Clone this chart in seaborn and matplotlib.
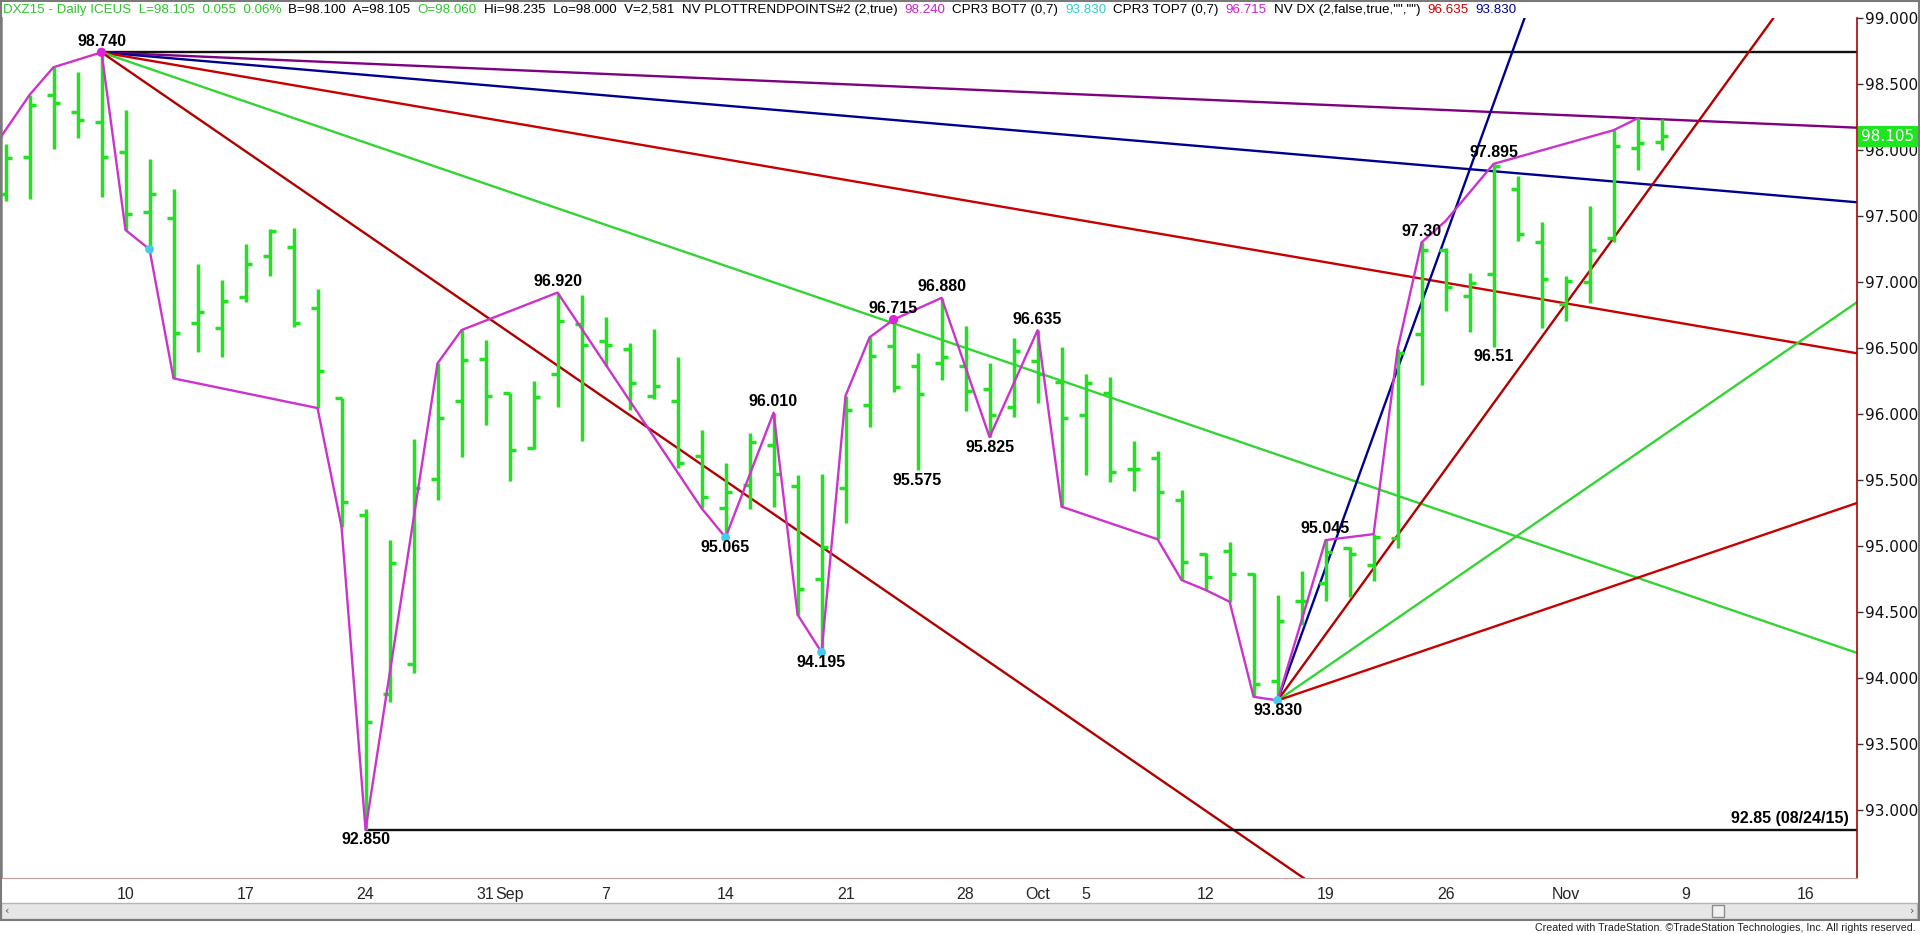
import numpy as np
import pandas as pd
import matplotlib
matplotlib.use('Agg')
import matplotlib.pyplot as plt
import seaborn as sns
from matplotlib import font_manager
from matplotlib.patches import Rectangle

# ---------------- data ----------------
dates = pd.bdate_range('2015-08-03', '2015-11-06')   # DXZ15 daily bars

opens = [97.67, 97.95, 98.417, 98.29, 98.214, 97.987, 97.53, 97.487, 96.687, 96.649,
         96.889, 97.197, 97.263, 96.805, 96.123, 95.235, 93.879, 94.104, 95.505, 96.098,
         96.414, 96.161, 95.74, 96.303, 96.682, 96.553, 96.492, 96.136, 96.098, 95.684,
         95.29, 95.462, 95.765, 95.455, 94.748, 95.437, 96.068, 96.517, 96.364, 96.384,
         96.364, 96.187, 96.051, 96.402, 96.24, 95.992, 96.161, 95.581, 95.664, 95.348,
         94.939, 94.962, 94.788, 93.98, 94.586, 94.717, 94.983, 94.856, 95.064, 96.605,
         97.246, 96.891, 97.058, 97.705, 97.306, 96.836, 96.998, 97.333, 98.015, 98.060]
highs = [98.045, 98.417, 98.627, 98.589, 98.74, 98.303, 97.93, 97.702, 97.134, 97.015,
         97.285, 97.40, 97.406, 96.947, 96.123, 95.278, 95.045, 95.81, 96.384, 96.636,
         96.561, 96.161, 96.25, 96.92, 96.902, 96.733, 96.536, 96.642, 96.434, 95.879,
         95.627, 95.858, 96.01, 95.538, 95.543, 96.139, 96.581, 96.715, 96.464, 96.88,
         96.669, 96.389, 96.574, 96.635, 96.51, 96.30, 96.278, 95.798, 95.722, 95.424,
         94.945, 95.028, 94.793, 94.629, 94.811, 95.045, 94.99, 95.09, 96.492, 97.30,
         97.26, 97.071, 97.895, 97.80, 97.454, 97.044, 97.578, 98.15, 98.24, 98.235]
lows = [97.61, 97.627, 98.008, 98.089, 97.646, 97.394, 97.248, 96.27, 96.467, 96.434,
        96.85, 97.048, 96.657, 96.045, 95.146, 92.85, 93.82, 94.036, 95.35, 95.677,
        95.917, 95.492, 95.735, 96.055, 95.798, 96.36, 96.03, 96.114, 95.589, 95.286,
        95.065, 95.278, 95.298, 94.48, 94.195, 95.172, 95.899, 96.169, 95.575, 96.258,
        96.025, 95.825, 95.98, 96.081, 95.298, 95.538, 95.483, 95.417, 95.051, 94.742,
        94.667, 94.578, 93.858, 93.83, 94.40, 94.586, 94.616, 94.737, 94.987, 96.222,
        96.783, 96.621, 96.51, 97.314, 96.648, 96.708, 96.842, 97.30, 97.845, 98.000]
closes = [97.94, 98.34, 98.354, 98.227, 97.95, 97.513, 97.667, 96.61, 96.77, 96.856,
          97.134, 97.386, 96.687, 96.326, 95.331, 93.669, 94.87, 95.442, 95.967, 96.409,
          96.136, 95.725, 96.129, 96.705, 96.52, 96.52, 96.233, 96.212, 95.627, 95.373,
          95.411, 95.79, 95.545, 94.672, 94.995, 96.03, 96.442, 96.202, 96.15, 96.43,
          96.177, 95.992, 96.477, 96.30, 95.967, 96.237, 95.563, 95.581, 95.407, 94.881,
          94.763, 94.788, 93.955, 94.432, 94.586, 94.957, 94.94, 95.066, 96.459, 97.246,
          96.964, 96.995, 97.877, 97.367, 97.026, 97.004, 97.246, 98.033, 98.055, 98.105]

# swing points joined by the PLOTTRENDPOINTS line
swing_dates = ['2015-07-31', '2015-08-04', '2015-08-05', '2015-08-07', '2015-08-10',
               '2015-08-11', '2015-08-12', '2015-08-20', '2015-08-21', '2015-08-24',
               '2015-08-27', '2015-08-28', '2015-09-03', '2015-09-11', '2015-09-14',
               '2015-09-16', '2015-09-17', '2015-09-18', '2015-09-21', '2015-09-22',
               '2015-09-23', '2015-09-25', '2015-09-29', '2015-10-01', '2015-10-02',
               '2015-10-08', '2015-10-09', '2015-10-12', '2015-10-13', '2015-10-14',
               '2015-10-15', '2015-10-19', '2015-10-21', '2015-10-22', '2015-10-23',
               '2015-10-26', '2015-10-28', '2015-11-04', '2015-11-05']
swing_prices = [97.884, 98.417, 98.627, 98.74, 97.394, 97.248, 96.27, 96.045, 95.146, 92.85,
                96.384, 96.636, 96.92, 95.286, 95.065, 96.01, 94.48, 94.195, 96.139, 96.581,
                96.715, 96.88, 95.825, 96.635, 95.298, 95.051, 94.742, 94.667, 94.578, 93.858,
                93.83, 95.045, 95.09, 96.492, 97.30, 97.462, 97.895, 98.15, 98.24]

# pivot dots
top_dot_dates = ['2015-08-07', '2015-09-23']
top_dot_prices = [98.74, 96.715]
bot_dot_dates = ['2015-08-11', '2015-09-14', '2015-09-18', '2015-10-15']
bot_dot_prices = [97.248, 95.065, 94.195, 93.83]

# pivot labels
lab_dates = ['2015-08-07', '2015-08-24', '2015-09-03', '2015-09-14', '2015-09-16',
             '2015-09-18', '2015-09-23', '2015-09-24', '2015-09-25', '2015-09-29',
             '2015-10-01', '2015-10-15', '2015-10-19', '2015-10-23', '2015-10-28',
             '2015-10-28']
lab_text = ['98.740', '92.850', '96.920', '95.065', '96.010', '94.195', '96.715', '95.575',
            '96.880', '95.825', '96.635', '93.830', '95.045', '97.30', '97.895', '96.51']
lab_side = ['up', 'down', 'up', 'down', 'up', 'down', 'up', 'down',
            'up', 'down', 'up', 'down', 'up', 'up', 'up', 'down']

# trend lines: start bar (index), start price, end bar (index), end price
tl_name = ['hi_flat', 'hi_purple', 'hi_blue', 'hi_red', 'hi_green', 'hi_steep',
           'lo_flat', 'lo_blue', 'lo_red', 'lo_green', 'lo_red2']
tl_x0 = [4, 4, 4, 4, 4, 4, 15, 53, 53, 53, 53]
tl_p0 = [98.74, 98.74, 98.74, 98.74, 98.74, 98.74, 92.85, 93.83, 93.83, 93.83, 93.83]
tl_x1 = [77.14, 77.14, 77.14, 77.14, 77.14, 60.0, 77.14, 63.29, 73.66, 77.14, 77.14]
tl_p1 = [98.74, 98.169, 97.604, 96.46, 94.19, 91.746, 92.85, 99.0, 99.0, 96.847, 95.326]

tick_days = ['2015-08-10', '2015-08-17', '2015-08-24', '2015-08-31', '2015-09-07',
             '2015-09-14', '2015-09-21', '2015-09-28', '2015-10-05', '2015-10-12',
             '2015-10-19', '2015-10-26', '2015-11-09', '2015-11-16']
tick_months = ['2015-09-01', '2015-10-01', '2015-11-02']

header = [("DXZ15 - Daily ICEUS  L=98.105  0.055  0.06%", '#2fc42f'),
          ("B=98.100  A=98.105", 'black'),
          ("O=98.060", '#2fc42f'),
          ("Hi=98.235  Lo=98.000  V=2,581  NV PLOTTRENDPOINTS#2 (2,true)", 'black'),
          ("98.240", '#cc22cc'),
          ("CPR3 BOT7 (0,7)", 'black'),
          ("93.830", '#33cccc'),
          ("CPR3 TOP7 (0,7)", 'black'),
          ("96.715", '#cc22cc'),
          ('NV DX (2,false,true,"","")', 'black'),
          ("96.635", '#cc0000'),
          ("93.830", '#000099')]
last_price = 98.105

# ---------------- styling ----------------
sns.set_style('white')
avail = {f.name for f in font_manager.fontManager.ttflist}
NARROW = 'Liberation Sans Narrow' if 'Liberation Sans Narrow' in avail else 'Liberation Sans'
plt.rcParams['font.family'] = ['Liberation Sans', 'DejaVu Sans']

BAR = '#22e022'
tl_colors = {'hi_flat': '#101010', 'hi_purple': '#800080', 'hi_blue': '#000090',
             'hi_red': '#c80000', 'hi_green': '#33d433', 'hi_steep': '#b00000',
             'lo_flat': '#101010', 'lo_blue': '#000090', 'lo_red': '#b00000',
             'lo_green': '#33d433', 'lo_red2': '#c80000'}

W, H = 1920, 934
fig = plt.figure(figsize=(W / 100, H / 100), dpi=100)
ax = fig.add_axes([2 / W, 1 - 878 / H, (1857 - 2) / W, (878 - 18) / H])


def bar_index(d):
    return np.busday_count('2015-08-03', pd.to_datetime(d).strftime('%Y-%m-%d'))


idx = np.arange(len(dates))

# trend lines
rows = []
for n, a, b, c, d in zip(tl_name, tl_x0, tl_p0, tl_x1, tl_p1):
    rows.append((n, a, b))
    rows.append((n, c, d))
tl_df = pd.DataFrame(rows, columns=['line', 'x', 'price'])
sns.lineplot(data=tl_df, x='x', y='price', hue='line', palette=tl_colors,
             estimator=None, sort=False, legend=False, lw=1.7, ax=ax, zorder=2)

# OHLC bars
ax.vlines(idx, lows, highs, colors=BAR, lw=2.5, zorder=3)
ax.hlines(opens, idx - 0.27, idx, colors=BAR, lw=2.5, zorder=3)
ax.hlines(closes, idx, idx + 0.27, colors=BAR, lw=2.5, zorder=3)

# swing line
sw_x = [bar_index(d) for d in swing_dates]
sns.lineplot(x=sw_x, y=swing_prices, sort=False, estimator=None, color='#cc33cc',
             lw=1.7, ax=ax, zorder=4)
sns.scatterplot(x=[bar_index(d) for d in top_dot_dates], y=top_dot_prices,
                color='#dd22dd', s=45, edgecolor='none', ax=ax, zorder=5)
sns.scatterplot(x=[bar_index(d) for d in bot_dot_dates], y=bot_dot_prices,
                color='#44ccee', s=40, edgecolor='none', ax=ax, zorder=5)

for d, s, side in zip(lab_dates, lab_text, lab_side):
    dy = 8.0 if side == 'up' else -7.2
    ax.annotate(s, xy=(bar_index(d), float(s)), xytext=(0, dy), textcoords='offset points',
                ha='center', va='center', fontsize=11.5, fontweight='bold', color='black',
                zorder=6)

ax.annotate('92.85 (08/24/15)', xy=(77.14, 92.85), xytext=(-6, 3), textcoords='offset points',
            ha='right', va='bottom', fontsize=11.5, fontweight='bold', color='black')

ax.set_xlim(-0.146, 77.14)
ax.set_ylim(92.485, 99.0)
ax.set_xlabel('')
ax.set_ylabel('')

# right price axis
ax.yaxis.tick_right()
ax.set_yticks(np.arange(93.0, 99.01, 0.5))
ax.set_yticklabels([f'{v:.3f}' for v in np.arange(93.0, 99.01, 0.5)],
                   family='DejaVu Sans', fontsize=11)
ax.tick_params(axis='y', direction='out', length=4, width=1, color='#333333', pad=2,
               labelcolor='#111111')

# date axis
day_pos = [bar_index(d) for d in tick_days]
mon_pos = [bar_index(d) for d in tick_months]
date_size = 12.5 if NARROW != 'Liberation Sans' else 11.5
ax.set_xticks(mon_pos, [pd.Timestamp(d).strftime('%b') for d in tick_months],
              family=NARROW, fontsize=date_size)
ax.set_xticks(day_pos, [str(pd.Timestamp(d).day) for d in tick_days], minor=True,
              family=NARROW, fontsize=date_size)
ax.tick_params(axis='x', which='major', direction='out', length=5, width=1,
               color='#cc0000', pad=1.5)
ax.tick_params(axis='x', which='minor', direction='out', length=2.5, width=1,
               color='#cc0000', pad=4)

ax.spines['top'].set_visible(False)
ax.spines['right'].set_color('#b00000')
ax.spines['right'].set_linewidth(1.2)
ax.spines['left'].set_color('#909090')
ax.spines['left'].set_linewidth(1.2)
ax.spines['bottom'].set_color('#c8a0a0')
ax.spines['bottom'].set_linewidth(0.8)

# last price flag
fig.text(1888 / W, 1 - (18 + (99 - last_price) * 132) / H, f'{last_price:.3f}',
         ha='center', va='center', color='white', fontsize=11, family='DejaVu Sans',
         bbox=dict(boxstyle='square,pad=0.2', facecolor='#1ee61e', edgecolor='none'))

# header line
hdr = []
t = fig.text(3 / W, 1 - 10 / H, header[0][0], color=header[0][1], ha='left', va='center',
             fontsize=10, family=NARROW)
hdr.append(t)
for s, c in header[1:]:
    t = ax.annotate(s, xy=(1, 0.5), xycoords=t, xytext=(5, 0), textcoords='offset points',
                    ha='left', va='center', color=c, fontsize=10, family=NARROW,
                    annotation_clip=False)
    hdr.append(t)

credit = fig.text(1916 / W, 1 - 928 / H,
                  'Created with TradeStation. \u00a9TradeStation Technologies, Inc. All rights reserved.',
                  ha='right', va='center', fontsize=8, family=NARROW, color='#222222')

# scroll bar and frame
fig.patches.append(Rectangle((1 / W, 1 - 919 / H), 1916 / W, 16 / H, transform=fig.transFigure,
                             facecolor='#e6e6e6', edgecolor='#b4b4b4', lw=1, zorder=0))
fig.patches.append(Rectangle((1712 / W, 1 - 917 / H), 12 / W, 12 / H, transform=fig.transFigure,
                             facecolor='#f2f2f2', edgecolor='#8c8c8c', lw=1, zorder=1))
fig.text(6 / W, 1 - 911 / H, '\u2039', fontsize=8, color='#555555', ha='center', va='center',
         family='DejaVu Sans')
fig.text(1912 / W, 1 - 911 / H, '\u203a', fontsize=8, color='#555555', ha='center', va='center',
         family='DejaVu Sans')
fig.patches.append(Rectangle((0.5 / W, 1 - 920 / H), 1918 / W, 919 / H, transform=fig.transFigure,
                             facecolor='none', edgecolor='#7a7a7a', lw=1.5, zorder=0))

# fit header / credit widths to the reference
fig.canvas.draw()
r = fig.canvas.get_renderer()
x0 = hdr[0].get_window_extent(r).x0
x1 = hdr[-1].get_window_extent(r).x1
k = 1512 / (x1 - x0)
for t in hdr:
    t.set_fontsize(t.get_fontsize() * k)
cw = credit.get_window_extent(r).width
credit.set_fontsize(credit.get_fontsize() * 376 / cw)

fig.savefig('out.png', dpi=100, facecolor='white')
